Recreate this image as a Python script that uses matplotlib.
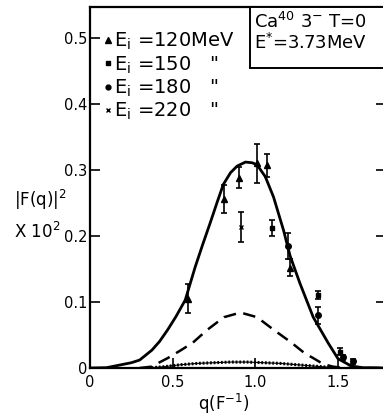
from matplotlib import pyplot as plt
from matplotlib.lines import Line2D
from matplotlib.patches import Rectangle

# theory curves
q_solid = [0.0, 0.10, 0.17, 0.25, 0.30, 0.374, 0.42, 0.47, 0.52, 0.576, 0.636, 0.68, 0.727, 0.77,
           0.806, 0.85, 0.89, 0.94, 0.98, 1.01, 1.06, 1.11, 1.17, 1.21, 1.27, 1.35, 1.44, 1.50,
           1.58, 1.65, 1.79]
v_solid = [0.0, 0.0005, 0.004, 0.008, 0.012, 0.027, 0.040, 0.058, 0.078, 0.103, 0.153, 0.186,
           0.220, 0.252, 0.278, 0.296, 0.306, 0.312, 0.311, 0.308, 0.290, 0.259, 0.209, 0.170,
           0.128, 0.077, 0.038, 0.014, 0.003, 0.0005, 0.0]

q_dash = [0.30, 0.37, 0.47, 0.55, 0.62, 0.71, 0.81, 0.91, 1.01, 1.11, 1.21, 1.30, 1.35, 1.41,
          1.47, 1.55, 1.79]
v_dash = [0.0, 0.002, 0.015, 0.027, 0.038, 0.058, 0.077, 0.084, 0.077, 0.058, 0.040, 0.022,
          0.015, 0.006, 0.002, 0.0, 0.0]

q_dot = [0.35, 0.45, 0.55, 0.65, 0.75, 0.85, 0.95, 1.05, 1.15, 1.25, 1.35, 1.45]
v_dot = [0.0, 0.002, 0.005, 0.007, 0.008, 0.009, 0.009, 0.008, 0.007, 0.005, 0.003, 0.001]

# measured points
q_120 = [0.59, 0.81, 0.90, 1.01, 1.07, 1.21]
v_120 = [0.105, 0.256, 0.288, 0.310, 0.307, 0.152]
e_120 = [0.022, 0.021, 0.016, 0.030, 0.017, 0.013]

q_150 = [1.10, 1.38, 1.51]
v_150 = [0.212, 0.110, 0.025]
e_150 = [0.012, 0.006, 0.005]

q_180 = [1.20, 1.38, 1.53, 1.59]
v_180 = [0.185, 0.080, 0.016, 0.010]
e_180 = [0.020, 0.013, 0.004, 0.004]

q_220 = [0.915]
v_220 = [0.214]
e_220 = [0.023]

xticks = [0, 0.5, 1.0, 1.5]
xlabels = ['0', '0.5', '1.0', '1.5']
yticks = [0, 0.1, 0.2, 0.3, 0.4, 0.5]
ylabels = ['0', '0.1', '0.2', '0.3', '0.4', '0.5']

fig = plt.figure(figsize=(3.83, 4.19), dpi=100)
ax = fig.add_axes([90/383, 51/419, 296/383, 361/419])

ax.plot(q_solid, v_solid, color='black', lw=2.0)
ax.plot(q_dash, v_dash, color='black', lw=1.8, dashes=(5, 3))
ax.plot(q_dot, v_dot, color='black', lw=0.8)
ax.plot(q_dot, v_dot, color='black', lw=2.2, dashes=(0.6, 0.6))

kw = dict(color='black', ecolor='black', elinewidth=1.2, capsize=2.5, capthick=1.2, ls='none')
ax.errorbar(q_120, v_120, yerr=e_120, marker='^', ms=5, **kw)
ax.errorbar(q_150, v_150, yerr=e_150, marker='s', ms=3.5, **kw)
ax.errorbar(q_180, v_180, yerr=e_180, marker='o', ms=4, **kw)
ax.errorbar(q_220, v_220, yerr=e_220, marker='x', ms=3.5, **kw)

ax.set_xlim(0, 1.79)
ax.set_ylim(0, 0.547)
ax.set_xticks(xticks)
ax.set_xticklabels(xlabels)
ax.set_yticks(yticks)
ax.set_yticklabels(ylabels)
ax.tick_params(direction='in', length=7, width=1.2, labelsize=10.5, right=True)
ax.tick_params(axis='y', labelright=False, pad=2)
ax.tick_params(axis='x', pad=5)
for s in ax.spines.values():
    s.set_linewidth(1.6)

# legend in the upper left, markers only
handles = [Line2D([], [], color='black', ls='none', marker='^', ms=4),
           Line2D([], [], color='black', ls='none', marker='s', ms=3.5),
           Line2D([], [], color='black', ls='none', marker='o', ms=3.5),
           Line2D([], [], color='black', ls='none', marker='x', ms=3)]
ax.legend(handles,
          [r'E$_\mathregular{i}$ =120MeV', r'E$_\mathregular{i}$ =150   "',
           r'E$_\mathregular{i}$ =180   "', r'E$_\mathregular{i}$ =220   "'],
          loc='upper left', frameon=False, fontsize=14, handlelength=0.4, handletextpad=0.15,
          labelspacing=0.1, borderaxespad=0.0, bbox_to_anchor=(0.02, 0.955))

# boxed label, right edge runs past the picture
ax.add_patch(Rectangle((160/296, 1 - 61/361), 0.5, 61/361, transform=ax.transAxes,
                       fc='white', ec='black', lw=1.4, clip_on=False, zorder=5))
ax.text(164/296, 1 - 5/361, 'Ca$^{40}$ 3$^{-}$ T=0\nE$^{*}$=3.73MeV', transform=ax.transAxes,
        ha='left', va='top', fontsize=13, linespacing=1.05, zorder=6)

fig.text(14/383, 1 - 200/419, '|F(q)|$^2$', fontsize=12, va='center', ha='left')
fig.text(14/383, 1 - 232/419, 'X 10$^2$', fontsize=12, va='center', ha='left')
ax.set_xlabel('q(F$^{-1}$)', fontsize=12)
ax.xaxis.set_label_coords((224 - 90) / 296, -0.065)

plt.savefig('out.png', dpi=100)
